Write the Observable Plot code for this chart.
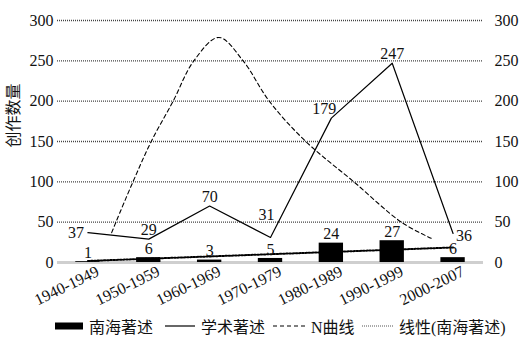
<!DOCTYPE html>
<html>
<head>
<meta charset="utf-8">
<script src="https://cdn.jsdelivr.net/npm/d3@7"></script>
<script src="https://cdn.jsdelivr.net/npm/@observablehq/plot@0.6"></script>
<style>
  html, body { margin: 0; padding: 0; background: #fff; }
  #wrap { position: relative; width: 524px; height: 355px; overflow: hidden; font-family: "Liberation Serif", "Times New Roman", "Noto Sans CJK SC", serif; }
  #legend { position: absolute; left: 0; top: 310px; width: 524px; height: 45px; font-size: 16px; color: #111; }
  .item { position: absolute; top: 6px; display: flex; align-items: center; white-space: nowrap; height: 20px; }
  .item svg { margin-right: 6px; }
  #chart svg text { font-family: "Liberation Serif", "Times New Roman", "Noto Sans CJK SC", serif; }
</style>
</head>
<body>
<div id="wrap">
  <div id="chart"></div>
  <div id="legend"></div>
</div>
<script>
const categories = ["1940-1949", "1950-1959", "1960-1969", "1970-1979", "1980-1989", "1990-1999", "2000-2007"];
const nanhai = [1, 6, 3, 5, 24, 27, 6];
const xueshu = [37, 29, 70, 31, 179, 247, 36];
// N curve sampled along the category axis (position in category units, value)
const nCurvePos = [0.39, 0.46, 0.74, 1.04, 1.40, 1.74, 2.15, 2.55, 2.98, 3.58, 4.37, 5.15, 5.64];
const nCurveVal = [37, 50, 100, 150, 200, 250, 279, 250, 200, 150, 100, 50, 30];
const yTicks = [0, 50, 100, 150, 200, 250, 300];
const seriesNames = ["南海著述", "学术著述", "N曲线", "线性(南海著述)"];
const yLabel = "创作数量";

const idx = categories.map((c, i) => i);
const barData = idx.map(i => ({i, v: nanhai[i]}));
const lineData = idx.map(i => ({i, v: xueshu[i]}));
const nData = nCurvePos.map((p, k) => ({p, v: nCurveVal[k]}));

const font = "'Liberation Serif', 'Times New Roman', 'Noto Sans CJK SC', serif";

const chart = Plot.plot({
  width: 524,
  height: 310,
  marginLeft: 57,
  marginRight: 41,
  marginTop: 20,
  marginBottom: 48,
  x: {domain: [-0.5, 6.5], axis: null},
  y: {domain: [0, 300], axis: null},
  style: {fontFamily: font, fontSize: "16px", background: "#fff", color: "#111", overflow: "visible"},
  marks: [
    Plot.ruleY(yTicks.filter(t => t > 0), {stroke: "#444", strokeWidth: 1.3, strokeDasharray: "1,1"}),
    Plot.ruleY([0], {stroke: "#cfcfcf", strokeWidth: 3}),
    Plot.axisY({ticks: yTicks, anchor: "left", label: null, tickSize: 0, tickPadding: 4, fontSize: 16}),
    Plot.axisY({ticks: yTicks, anchor: "right", label: null, tickSize: 0, tickPadding: 11, fontSize: 16}),
    Plot.axisX({ticks: idx, label: null, tickFormat: i => categories[i], tickRotate: -26, tickSize: 0, tickPadding: 8, dx: 10, fontSize: 16}),
    Plot.text([yLabel], {frameAnchor: "left", rotate: -90, dx: -44, dy: 6, fontSize: 16, fill: "#111"}),
    Plot.rectY(barData, {x1: d => d.i - 0.2, x2: d => d.i + 0.2, y: "v", fill: "#000"}),
    Plot.linearRegressionY(barData, {x: "i", y: "v", ci: 0, stroke: "#000", strokeWidth: 2, strokeDasharray: "1.6,1.6"}),
    Plot.line(nData, {x: "p", y: "v", curve: "catmull-rom", stroke: "#000", strokeWidth: 1.1, strokeDasharray: "4,3"}),
    Plot.line(lineData, {x: "i", y: "v", stroke: "#000", strokeWidth: 1.2}),
    // bar value labels
    Plot.text(barData, {x: "i", y: "v", text: d => String(d.v), dy: -9, lineAnchor: "middle", fontSize: 16, fill: "#111"}),
    // line value labels
    Plot.text(lineData, {filter: d => d.i === 0, x: "i", y: "v", text: d => String(d.v), dx: -12, dy: 0, fontSize: 16, fill: "#111"}),
    Plot.text(lineData, {filter: d => d.i === 1 || d.i === 2 || d.i === 5, x: "i", y: "v", text: d => String(d.v), dy: -9, fontSize: 16, fill: "#111"}),
    Plot.text(lineData, {filter: d => d.i === 3, x: "i", y: "v", text: d => String(d.v), dx: -4, dy: -23, fontSize: 16, fill: "#111"}),
    Plot.text(lineData, {filter: d => d.i === 4, x: "i", y: "v", text: d => String(d.v), dx: -7, dy: -9, fontSize: 16, fill: "#111"}),
    Plot.text(lineData, {filter: d => d.i === 6, x: "i", y: "v", text: d => String(d.v), dx: 11, dy: 2, fontSize: 16, fill: "#111"})
  ]
});
document.getElementById("chart").appendChild(chart);

// legend
const legend = document.getElementById("legend");
const swatches = [
  {left: 55, svg: '<svg width="28" height="10"><rect x="0" y="1.5" width="28" height="7" fill="#000"/></svg>'},
  {left: 165, svg: '<svg width="30" height="10"><line x1="0" x2="30" y1="5" y2="5" stroke="#000" stroke-width="1.2"/></svg>'},
  {left: 273, svg: '<svg width="32" height="10"><line x1="0" x2="32" y1="5" y2="5" stroke="#000" stroke-width="1.1" stroke-dasharray="4,3"/></svg>'},
  {left: 362, svg: '<svg width="31" height="10"><line x1="0" x2="31" y1="5" y2="5" stroke="#555" stroke-width="1" stroke-dasharray="1,1"/></svg>'}
];
seriesNames.forEach((name, k) => {
  const el = document.createElement("div");
  el.className = "item";
  el.style.left = swatches[k].left + "px";
  el.innerHTML = swatches[k].svg + '<span>' + name + '</span>';
  legend.appendChild(el);
});
</script>
</body>
</html>
